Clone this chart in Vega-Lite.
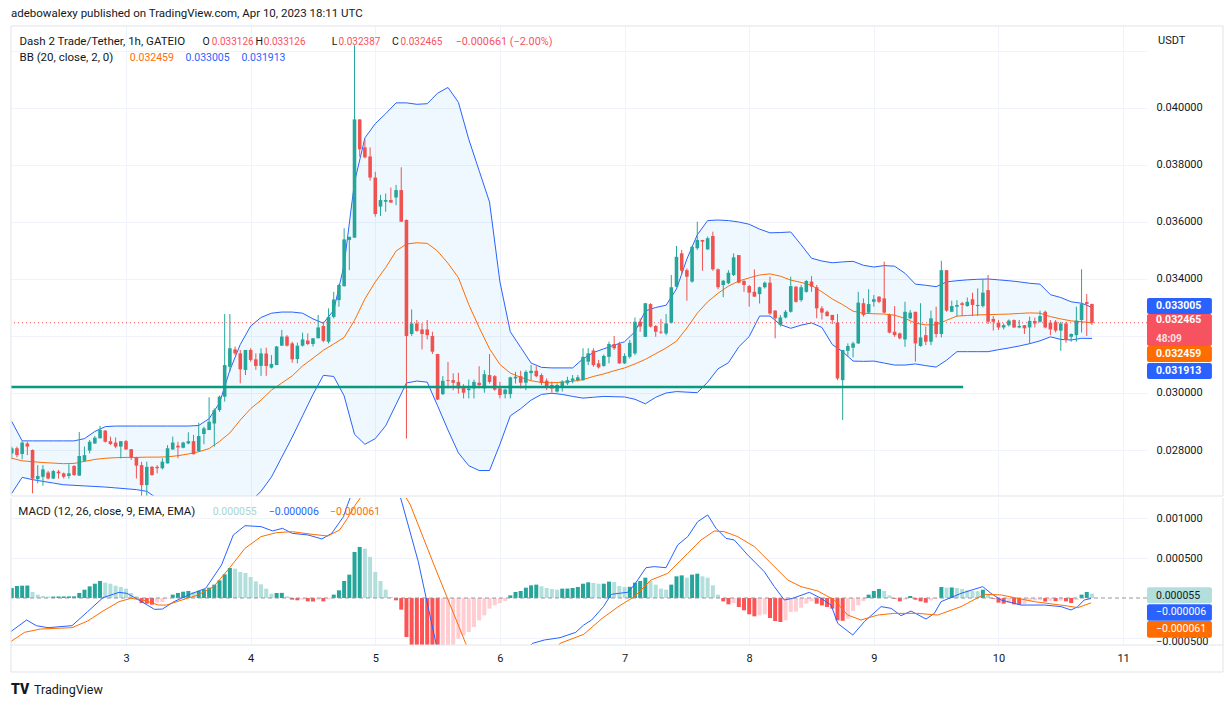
{
"$schema": "https://vega.github.io/schema/vega-lite/v6.json",
"background": "white",
"padding": {"left": 10, "top": 8, "right": 0, "bottom": 0},
"spacing": 0,
"config": {"font": "Roboto", "view": {"stroke": null}, "axis": {"labelFont": "Roboto", "labelFontSize": 11, "labelColor": "#131722", "gridColor": "#f0f3fa", "domain": false, "ticks": false}},
"datasets": {
"candles": [
{"t":2,"o":0.02788,"h":0.02812,"l":0.02767,"c":0.02806},{"t":3,"o":0.02806,"h":0.02812,"l":0.02774,"c":0.02782},{"t":4,"o":0.02786,"h":0.02831,"l":0.02767,"c":0.02826},{"t":5,"o":0.02823,"h":0.02829,"l":0.02782,"c":0.02812},{"t":6,"o":0.028,"h":0.02802,"l":0.02648,"c":0.027},{"t":7,"o":0.02698,"h":0.02747,"l":0.02683,"c":0.02709},{"t":8,"o":0.02706,"h":0.02747,"l":0.02675,"c":0.02732},{"t":9,"o":0.02721,"h":0.02727,"l":0.02697,"c":0.027},{"t":10,"o":0.027,"h":0.0273,"l":0.02698,"c":0.02726},{"t":11,"o":0.02724,"h":0.0273,"l":0.027,"c":0.02718},{"t":12,"o":0.02718,"h":0.02721,"l":0.027,"c":0.02706},{"t":13,"o":0.02709,"h":0.0275,"l":0.027,"c":0.02718},{"t":14,"o":0.02744,"h":0.02747,"l":0.02709,"c":0.02712},{"t":15,"o":0.0271,"h":0.02863,"l":0.0271,"c":0.02779},{"t":16,"o":0.02762,"h":0.02812,"l":0.02759,"c":0.02782},{"t":17,"o":0.02798,"h":0.02835,"l":0.02788,"c":0.02829},{"t":18,"o":0.02823,"h":0.02849,"l":0.02821,"c":0.02843},{"t":19,"o":0.02841,"h":0.02885,"l":0.02841,"c":0.0287},{"t":20,"o":0.02868,"h":0.0287,"l":0.02826,"c":0.02829},{"t":21,"o":0.02831,"h":0.02847,"l":0.02817,"c":0.02821},{"t":22,"o":0.02826,"h":0.02844,"l":0.02806,"c":0.02812},{"t":23,"o":0.02812,"h":0.02831,"l":0.02771,"c":0.02831},{"t":24,"o":0.02831,"h":0.02835,"l":0.028,"c":0.02802},{"t":25,"o":0.02803,"h":0.02803,"l":0.02765,"c":0.02773},{"t":26,"o":0.02774,"h":0.02776,"l":0.027,"c":0.02745},{"t":27,"o":0.02747,"h":0.02759,"l":0.02636,"c":0.02677},{"t":28,"o":0.02677,"h":0.02759,"l":0.02636,"c":0.02741},{"t":29,"o":0.02741,"h":0.02744,"l":0.0271,"c":0.02712},{"t":30,"o":0.02741,"h":0.02747,"l":0.02718,"c":0.02736},{"t":31,"o":0.02736,"h":0.02771,"l":0.02732,"c":0.02759},{"t":32,"o":0.02753,"h":0.02817,"l":0.02753,"c":0.02806},{"t":33,"o":0.02802,"h":0.02847,"l":0.028,"c":0.02826},{"t":34,"o":0.02815,"h":0.02829,"l":0.02771,"c":0.02809},{"t":35,"o":0.02808,"h":0.02829,"l":0.02806,"c":0.02826},{"t":36,"o":0.02823,"h":0.02862,"l":0.0282,"c":0.02831},{"t":37,"o":0.02831,"h":0.02853,"l":0.02785,"c":0.02785},{"t":38,"o":0.02796,"h":0.02896,"l":0.02794,"c":0.02849},{"t":39,"o":0.02856,"h":0.02882,"l":0.0282,"c":0.02876},{"t":40,"o":0.0287,"h":0.02985,"l":0.0287,"c":0.02899},{"t":41,"o":0.02893,"h":0.02946,"l":0.02812,"c":0.0294},{"t":42,"o":0.0294,"h":0.02991,"l":0.02934,"c":0.02987},{"t":43,"o":0.02987,"h":0.03277,"l":0.0297,"c":0.03098},{"t":44,"o":0.03092,"h":0.03277,"l":0.03075,"c":0.03157},{"t":45,"o":0.03153,"h":0.03163,"l":0.03133,"c":0.03139},{"t":46,"o":0.03139,"h":0.03151,"l":0.03034,"c":0.03083},{"t":47,"o":0.03081,"h":0.03151,"l":0.03063,"c":0.03151},{"t":48,"o":0.03151,"h":0.03157,"l":0.0311,"c":0.03116},{"t":49,"o":0.03118,"h":0.03139,"l":0.03081,"c":0.03095},{"t":50,"o":0.03095,"h":0.03157,"l":0.0306,"c":0.03139},{"t":51,"o":0.03139,"h":0.03159,"l":0.0306,"c":0.03095},{"t":52,"o":0.03089,"h":0.03133,"l":0.03086,"c":0.03102},{"t":53,"o":0.03098,"h":0.03165,"l":0.03098,"c":0.03163},{"t":54,"o":0.03166,"h":0.03221,"l":0.03166,"c":0.03198},{"t":55,"o":0.03198,"h":0.03203,"l":0.03163,"c":0.03166},{"t":56,"o":0.03174,"h":0.0318,"l":0.03106,"c":0.03118},{"t":57,"o":0.03119,"h":0.03177,"l":0.03104,"c":0.03166},{"t":58,"o":0.03166,"h":0.03212,"l":0.03163,"c":0.03188},{"t":59,"o":0.03184,"h":0.03209,"l":0.03168,"c":0.03172},{"t":60,"o":0.03172,"h":0.03192,"l":0.03163,"c":0.03192},{"t":61,"o":0.03192,"h":0.03274,"l":0.03192,"c":0.0323},{"t":62,"o":0.03235,"h":0.0325,"l":0.03178,"c":0.03183},{"t":63,"o":0.0318,"h":0.03297,"l":0.03174,"c":0.03267},{"t":64,"o":0.03267,"h":0.03355,"l":0.03262,"c":0.03328},{"t":65,"o":0.03326,"h":0.03382,"l":0.03303,"c":0.03379},{"t":66,"o":0.03375,"h":0.03578,"l":0.03373,"c":0.03539},{"t":67,"o":0.03537,"h":0.03548,"l":0.03431,"c":0.03548},{"t":68,"o":0.03545,"h":0.0422,"l":0.03545,"c":0.0396},{"t":69,"o":0.0396,"h":0.0396,"l":0.03829,"c":0.03855},{"t":70,"o":0.03862,"h":0.0389,"l":0.03823,"c":0.03827},{"t":71,"o":0.0383,"h":0.03862,"l":0.03745,"c":0.03756},{"t":72,"o":0.03756,"h":0.03776,"l":0.03619,"c":0.03628},{"t":73,"o":0.03654,"h":0.03695,"l":0.03621,"c":0.03677},{"t":74,"o":0.03671,"h":0.037,"l":0.03636,"c":0.03677},{"t":75,"o":0.03677,"h":0.03721,"l":0.03668,"c":0.03668},{"t":76,"o":0.03686,"h":0.0373,"l":0.03659,"c":0.03712},{"t":77,"o":0.03712,"h":0.03792,"l":0.03601,"c":0.03601},{"t":78,"o":0.03607,"h":0.03609,"l":0.0284,"c":0.032},{"t":79,"o":0.03207,"h":0.03293,"l":0.032,"c":0.03244},{"t":80,"o":0.03244,"h":0.03256,"l":0.03215,"c":0.03218},{"t":81,"o":0.03223,"h":0.03244,"l":0.03153,"c":0.03207},{"t":82,"o":0.03223,"h":0.03256,"l":0.03188,"c":0.03203},{"t":83,"o":0.032,"h":0.03215,"l":0.03137,"c":0.03145},{"t":84,"o":0.03137,"h":0.03137,"l":0.02975,"c":0.02977},{"t":85,"o":0.02996,"h":0.03059,"l":0.02993,"c":0.03043},{"t":86,"o":0.03045,"h":0.03109,"l":0.03016,"c":0.03042},{"t":87,"o":0.03045,"h":0.03069,"l":0.0301,"c":0.03036},{"t":88,"o":0.03039,"h":0.03071,"l":0.02998,"c":0.03016},{"t":89,"o":0.03022,"h":0.03031,"l":0.02981,"c":0.03001},{"t":90,"o":0.0301,"h":0.03047,"l":0.02981,"c":0.03016},{"t":91,"o":0.03016,"h":0.03047,"l":0.02981,"c":0.03039},{"t":92,"o":0.03036,"h":0.03094,"l":0.03016,"c":0.03028},{"t":93,"o":0.03016,"h":0.0308,"l":0.03001,"c":0.03066},{"t":94,"o":0.03063,"h":0.03137,"l":0.03033,"c":0.03039},{"t":95,"o":0.03059,"h":0.03063,"l":0.03008,"c":0.03012},{"t":96,"o":0.03016,"h":0.03039,"l":0.02981,"c":0.02993},{"t":97,"o":0.02996,"h":0.03016,"l":0.02981,"c":0.03012},{"t":98,"o":0.02996,"h":0.03057,"l":0.02981,"c":0.03055},{"t":99,"o":0.03051,"h":0.03074,"l":0.03033,"c":0.03057},{"t":100,"o":0.03059,"h":0.03078,"l":0.03016,"c":0.03036},{"t":101,"o":0.03036,"h":0.0308,"l":0.0301,"c":0.03074},{"t":102,"o":0.0307,"h":0.03098,"l":0.03045,"c":0.03078},{"t":103,"o":0.03078,"h":0.03094,"l":0.03055,"c":0.03059},{"t":104,"o":0.03063,"h":0.03069,"l":0.03028,"c":0.03036},{"t":105,"o":0.03043,"h":0.03051,"l":0.0301,"c":0.03022},{"t":106,"o":0.03028,"h":0.0304,"l":0.03001,"c":0.03016},{"t":107,"o":0.03005,"h":0.03034,"l":0.03001,"c":0.03028},{"t":108,"o":0.03022,"h":0.03045,"l":0.03005,"c":0.0304},{"t":109,"o":0.03034,"h":0.03057,"l":0.03028,"c":0.03045},{"t":110,"o":0.03043,"h":0.03063,"l":0.03034,"c":0.03051},{"t":111,"o":0.03045,"h":0.03063,"l":0.0304,"c":0.03055},{"t":112,"o":0.03045,"h":0.03157,"l":0.03043,"c":0.03127},{"t":113,"o":0.0311,"h":0.03157,"l":0.03098,"c":0.03139},{"t":114,"o":0.03149,"h":0.03157,"l":0.03092,"c":0.03098},{"t":115,"o":0.03104,"h":0.03116,"l":0.03086,"c":0.0309},{"t":116,"o":0.03095,"h":0.03135,"l":0.03092,"c":0.0313},{"t":117,"o":0.03127,"h":0.0318,"l":0.03104,"c":0.03172},{"t":118,"o":0.03172,"h":0.032,"l":0.03151,"c":0.03157},{"t":119,"o":0.03172,"h":0.0318,"l":0.03102,"c":0.03104},{"t":120,"o":0.03104,"h":0.03139,"l":0.03102,"c":0.0313},{"t":121,"o":0.03127,"h":0.03186,"l":0.03121,"c":0.03176},{"t":122,"o":0.03139,"h":0.03265,"l":0.03133,"c":0.0325},{"t":123,"o":0.0325,"h":0.03262,"l":0.03215,"c":0.03233},{"t":124,"o":0.03197,"h":0.03315,"l":0.03197,"c":0.03315},{"t":125,"o":0.03312,"h":0.03315,"l":0.0323,"c":0.03233},{"t":126,"o":0.03235,"h":0.03238,"l":0.03197,"c":0.03215},{"t":127,"o":0.03215,"h":0.03259,"l":0.03207,"c":0.03212},{"t":128,"o":0.03209,"h":0.03277,"l":0.03203,"c":0.03244},{"t":129,"o":0.03247,"h":0.03414,"l":0.03244,"c":0.03371},{"t":130,"o":0.03373,"h":0.03516,"l":0.03371,"c":0.03478},{"t":131,"o":0.0349,"h":0.03502,"l":0.03414,"c":0.03429},{"t":132,"o":0.03431,"h":0.03437,"l":0.03324,"c":0.03408},{"t":133,"o":0.03391,"h":0.03516,"l":0.03387,"c":0.03513},{"t":134,"o":0.03508,"h":0.03601,"l":0.03502,"c":0.03537},{"t":135,"o":0.03537,"h":0.03537,"l":0.03429,"c":0.03531},{"t":136,"o":0.03504,"h":0.03549,"l":0.03502,"c":0.03543},{"t":137,"o":0.03551,"h":0.03566,"l":0.03429,"c":0.03434},{"t":138,"o":0.03434,"h":0.03437,"l":0.03364,"c":0.03371},{"t":139,"o":0.03379,"h":0.03396,"l":0.03336,"c":0.03394},{"t":140,"o":0.03385,"h":0.03431,"l":0.03382,"c":0.03422},{"t":141,"o":0.03414,"h":0.0349,"l":0.0341,"c":0.03476},{"t":142,"o":0.03484,"h":0.03484,"l":0.03385,"c":0.03387},{"t":143,"o":0.03393,"h":0.03396,"l":0.03355,"c":0.03379},{"t":144,"o":0.03375,"h":0.03379,"l":0.03303,"c":0.03352},{"t":145,"o":0.03355,"h":0.03434,"l":0.03338,"c":0.03338},{"t":146,"o":0.03347,"h":0.03373,"l":0.03314,"c":0.03371},{"t":147,"o":0.03371,"h":0.03391,"l":0.03367,"c":0.03387},{"t":148,"o":0.03387,"h":0.03408,"l":0.03274,"c":0.03279},{"t":149,"o":0.03289,"h":0.03291,"l":0.03192,"c":0.03262},{"t":150,"o":0.03239,"h":0.03274,"l":0.03233,"c":0.03265},{"t":151,"o":0.03265,"h":0.03291,"l":0.03262,"c":0.03285},{"t":152,"o":0.03285,"h":0.03408,"l":0.03282,"c":0.03375},{"t":153,"o":0.03373,"h":0.03375,"l":0.03317,"c":0.0332},{"t":154,"o":0.03326,"h":0.03379,"l":0.0332,"c":0.03371},{"t":155,"o":0.03355,"h":0.03396,"l":0.03352,"c":0.03393},{"t":156,"o":0.03391,"h":0.0341,"l":0.03355,"c":0.03373},{"t":157,"o":0.03371,"h":0.03379,"l":0.03262,"c":0.03297},{"t":158,"o":0.03297,"h":0.03305,"l":0.03258,"c":0.03282},{"t":159,"o":0.03285,"h":0.03289,"l":0.03268,"c":0.0327},{"t":160,"o":0.03274,"h":0.03274,"l":0.03242,"c":0.03256},{"t":161,"o":0.03247,"h":0.03277,"l":0.03045,"c":0.03051},{"t":162,"o":0.03045,"h":0.03151,"l":0.02905,"c":0.03151},{"t":163,"o":0.03148,"h":0.03174,"l":0.03127,"c":0.03165},{"t":164,"o":0.03159,"h":0.0318,"l":0.03125,"c":0.03174},{"t":165,"o":0.03174,"h":0.03355,"l":0.03172,"c":0.03317},{"t":166,"o":0.03315,"h":0.03332,"l":0.03268,"c":0.03274},{"t":167,"o":0.03282,"h":0.03364,"l":0.03279,"c":0.03312},{"t":168,"o":0.0332,"h":0.03344,"l":0.03303,"c":0.03329},{"t":169,"o":0.03338,"h":0.0334,"l":0.03315,"c":0.0332},{"t":170,"o":0.03332,"h":0.03461,"l":0.03279,"c":0.03282},{"t":171,"o":0.03274,"h":0.03279,"l":0.03209,"c":0.03212},{"t":172,"o":0.03215,"h":0.03305,"l":0.03197,"c":0.03203},{"t":173,"o":0.03209,"h":0.03212,"l":0.03188,"c":0.03192},{"t":174,"o":0.03188,"h":0.0332,"l":0.03162,"c":0.03285},{"t":175,"o":0.03262,"h":0.03291,"l":0.03258,"c":0.03282},{"t":176,"o":0.03285,"h":0.03285,"l":0.0311,"c":0.03174},{"t":177,"o":0.03165,"h":0.03315,"l":0.03162,"c":0.03195},{"t":178,"o":0.03203,"h":0.03233,"l":0.03168,"c":0.0318},{"t":179,"o":0.0318,"h":0.03289,"l":0.03168,"c":0.03262},{"t":180,"o":0.0325,"h":0.03303,"l":0.03195,"c":0.03207},{"t":181,"o":0.03207,"h":0.03464,"l":0.03195,"c":0.03431},{"t":182,"o":0.03431,"h":0.03431,"l":0.03285,"c":0.03289},{"t":183,"o":0.03285,"h":0.03324,"l":0.03285,"c":0.03305},{"t":184,"o":0.03303,"h":0.03326,"l":0.03268,"c":0.03309},{"t":185,"o":0.03315,"h":0.0332,"l":0.0327,"c":0.03309},{"t":186,"o":0.03305,"h":0.03335,"l":0.03303,"c":0.0332},{"t":187,"o":0.03329,"h":0.03352,"l":0.0327,"c":0.03309},{"t":188,"o":0.03305,"h":0.03367,"l":0.0327,"c":0.03309},{"t":189,"o":0.03305,"h":0.03399,"l":0.033,"c":0.03352},{"t":190,"o":0.03361,"h":0.03414,"l":0.03242,"c":0.0325},{"t":191,"o":0.0326,"h":0.0327,"l":0.03219,"c":0.0325},{"t":192,"o":0.03247,"h":0.03256,"l":0.03221,"c":0.0323},{"t":193,"o":0.0323,"h":0.03244,"l":0.03223,"c":0.03238},{"t":194,"o":0.03238,"h":0.03258,"l":0.03233,"c":0.03254},{"t":195,"o":0.03256,"h":0.03258,"l":0.03228,"c":0.0323},{"t":196,"o":0.0323,"h":0.03256,"l":0.03227,"c":0.03235},{"t":197,"o":0.03238,"h":0.03238,"l":0.03207,"c":0.03227},{"t":198,"o":0.0323,"h":0.03268,"l":0.03172,"c":0.03253},{"t":199,"o":0.03253,"h":0.03265,"l":0.0323,"c":0.03244},{"t":200,"o":0.0325,"h":0.03289,"l":0.03247,"c":0.0327},{"t":201,"o":0.03285,"h":0.03289,"l":0.03227,"c":0.0323},{"t":202,"o":0.03247,"h":0.03256,"l":0.03203,"c":0.03223},{"t":203,"o":0.0325,"h":0.03256,"l":0.03212,"c":0.03219},{"t":204,"o":0.03219,"h":0.0325,"l":0.03148,"c":0.03244},{"t":205,"o":0.03244,"h":0.0325,"l":0.03176,"c":0.03186},{"t":206,"o":0.03197,"h":0.03209,"l":0.0318,"c":0.03207},{"t":207,"o":0.03203,"h":0.03303,"l":0.0318,"c":0.03254},{"t":208,"o":0.03256,"h":0.03434,"l":0.03212,"c":0.03312},{"t":209,"o":0.03319,"h":0.03347,"l":0.032,"c":0.033126},{"t":210,"o":0.033126,"h":0.033126,"l":0.032387,"c":0.032465}
],
"bb": [
{"t":2,"u":0.029,"m":0.02771,"l":0.02648},{"t":4,"u":0.02832,"m":0.02762,"l":0.02704},{"t":6,"u":0.02832,"m":0.02759,"l":0.02696},{"t":8,"u":0.02832,"m":0.02756,"l":0.0269},{"t":10,"u":0.02832,"m":0.02754,"l":0.02684},{"t":12,"u":0.02832,"m":0.02752,"l":0.02678},{"t":14,"u":0.02832,"m":0.02753,"l":0.02676},{"t":16,"u":0.0284,"m":0.0276,"l":0.02674},{"t":18,"u":0.02865,"m":0.02767,"l":0.02672},{"t":20,"u":0.02882,"m":0.02771,"l":0.0267},{"t":22,"u":0.02884,"m":0.02773,"l":0.02667},{"t":24,"u":0.02884,"m":0.02774,"l":0.02664},{"t":26,"u":0.02884,"m":0.02774,"l":0.02661},{"t":28,"u":0.02884,"m":0.02775,"l":0.02655},{"t":30,"u":0.02884,"m":0.02775,"l":0.0263},{"t":32,"u":0.02884,"m":0.02776,"l":0.0261},{"t":34,"u":0.02884,"m":0.0278,"l":0.0259},{"t":36,"u":0.02884,"m":0.02786,"l":0.0258},{"t":38,"u":0.02886,"m":0.02794,"l":0.02575},{"t":40,"u":0.0291,"m":0.02805,"l":0.02572},{"t":42,"u":0.02965,"m":0.0283,"l":0.02575},{"t":44,"u":0.0308,"m":0.0286,"l":0.02585},{"t":46,"u":0.0317,"m":0.02905,"l":0.02598},{"t":48,"u":0.03235,"m":0.02945,"l":0.0262},{"t":50,"u":0.03265,"m":0.02975,"l":0.02655},{"t":52,"u":0.0328,"m":0.0301,"l":0.02705},{"t":54,"u":0.03284,"m":0.03035,"l":0.02775},{"t":56,"u":0.03284,"m":0.0306,"l":0.02845},{"t":58,"u":0.0328,"m":0.03095,"l":0.0292},{"t":60,"u":0.0326,"m":0.03122,"l":0.02995},{"t":62,"u":0.03245,"m":0.0315,"l":0.03062},{"t":64,"u":0.0329,"m":0.03172,"l":0.03058},{"t":66,"u":0.0345,"m":0.03195,"l":0.0299},{"t":68,"u":0.0374,"m":0.03255,"l":0.02855},{"t":70,"u":0.03895,"m":0.0333,"l":0.0282},{"t":72,"u":0.03945,"m":0.0339,"l":0.0284},{"t":74,"u":0.0398,"m":0.0344,"l":0.02885},{"t":76,"u":0.04018,"m":0.03498,"l":0.0296},{"t":78,"u":0.04018,"m":0.03523,"l":0.03035},{"t":80,"u":0.04013,"m":0.03527,"l":0.03042},{"t":82,"u":0.04015,"m":0.03525,"l":0.03038},{"t":84,"u":0.04052,"m":0.03498,"l":0.02955},{"t":86,"u":0.04072,"m":0.03455,"l":0.0287},{"t":88,"u":0.0402,"m":0.03405,"l":0.0279},{"t":90,"u":0.0389,"m":0.0331,"l":0.02745},{"t":92,"u":0.0378,"m":0.0323,"l":0.02728},{"t":94,"u":0.0367,"m":0.03155,"l":0.02728},{"t":96,"u":0.0339,"m":0.031,"l":0.0282},{"t":98,"u":0.03215,"m":0.0307,"l":0.0292},{"t":100,"u":0.0316,"m":0.03055,"l":0.02945},{"t":102,"u":0.03105,"m":0.03043,"l":0.02975},{"t":104,"u":0.0309,"m":0.03037,"l":0.02995},{"t":106,"u":0.03088,"m":0.03036,"l":0.02999},{"t":108,"u":0.03088,"m":0.03038,"l":0.02995},{"t":110,"u":0.03088,"m":0.03041,"l":0.02988},{"t":112,"u":0.0312,"m":0.03047,"l":0.02982},{"t":114,"u":0.03142,"m":0.03058,"l":0.02985},{"t":116,"u":0.03155,"m":0.03067,"l":0.02988},{"t":118,"u":0.03168,"m":0.03078,"l":0.02987},{"t":120,"u":0.0318,"m":0.03088,"l":0.02986},{"t":122,"u":0.03215,"m":0.03102,"l":0.02978},{"t":124,"u":0.03288,"m":0.03118,"l":0.02962},{"t":126,"u":0.033,"m":0.03138,"l":0.02985},{"t":128,"u":0.03308,"m":0.03158,"l":0.03},{"t":130,"u":0.03365,"m":0.03182,"l":0.03005},{"t":132,"u":0.0347,"m":0.03228,"l":0.03003},{"t":134,"u":0.03555,"m":0.0328,"l":0.03001},{"t":136,"u":0.03605,"m":0.0332,"l":0.03038},{"t":138,"u":0.03607,"m":0.0335,"l":0.03085},{"t":140,"u":0.03605,"m":0.03375,"l":0.03106},{"t":142,"u":0.036,"m":0.03393,"l":0.03162},{"t":144,"u":0.03592,"m":0.03404,"l":0.03198},{"t":146,"u":0.03575,"m":0.03414,"l":0.0327},{"t":148,"u":0.03562,"m":0.03418,"l":0.0327},{"t":150,"u":0.03563,"m":0.0341,"l":0.0324},{"t":152,"u":0.03565,"m":0.03396,"l":0.03227},{"t":154,"u":0.0352,"m":0.03388,"l":0.03238},{"t":156,"u":0.03473,"m":0.03378,"l":0.03246},{"t":158,"u":0.03463,"m":0.03355,"l":0.0323},{"t":160,"u":0.03457,"m":0.0333,"l":0.0317},{"t":162,"u":0.0346,"m":0.0331,"l":0.03145},{"t":164,"u":0.03462,"m":0.03287,"l":0.03112},{"t":166,"u":0.03448,"m":0.0328,"l":0.03111},{"t":168,"u":0.03442,"m":0.03278,"l":0.03112},{"t":170,"u":0.03447,"m":0.03277,"l":0.03105},{"t":172,"u":0.03445,"m":0.03273,"l":0.03098},{"t":174,"u":0.0342,"m":0.03262,"l":0.03098},{"t":176,"u":0.03382,"m":0.03245,"l":0.03102},{"t":178,"u":0.03378,"m":0.03239,"l":0.03096},{"t":180,"u":0.03373,"m":0.03239,"l":0.03091},{"t":182,"u":0.0339,"m":0.03255,"l":0.03115},{"t":184,"u":0.03394,"m":0.0327,"l":0.03145},{"t":186,"u":0.03397,"m":0.03272,"l":0.03145},{"t":188,"u":0.03399,"m":0.03274,"l":0.03145},{"t":190,"u":0.034,"m":0.03275,"l":0.03145},{"t":192,"u":0.03397,"m":0.03276,"l":0.03152},{"t":194,"u":0.03394,"m":0.03277,"l":0.03158},{"t":196,"u":0.0339,"m":0.03279,"l":0.03165},{"t":198,"u":0.03385,"m":0.03281,"l":0.03173},{"t":200,"u":0.03382,"m":0.0328,"l":0.03183},{"t":202,"u":0.03345,"m":0.03268,"l":0.03197},{"t":204,"u":0.03335,"m":0.0326,"l":0.03188},{"t":206,"u":0.0332,"m":0.03253,"l":0.03186},{"t":208,"u":0.03315,"m":0.0325,"l":0.03192},{"t":210,"u":0.033005,"m":0.032459,"l":0.031913}
],
"hist": [
{"t":2,"v":0.000125},{"t":3,"v":0.00015},{"t":4,"v":0.000154},{"t":5,"v":0.000156},{"t":6,"v":0.000075},{"t":7,"v":0.000042},{"t":8,"v":0.000025},{"t":9,"v":0.000017},{"t":10,"v":0.000018},{"t":11,"v":0.000019},{"t":12,"v":0.000019},{"t":13,"v":0.00002},{"t":14,"v":0.000021},{"t":15,"v":0.000063},{"t":16,"v":0.000104},{"t":17,"v":0.000146},{"t":18,"v":0.000179},{"t":19,"v":0.000213},{"t":20,"v":0.000192},{"t":21,"v":0.000179},{"t":22,"v":0.000154},{"t":23,"v":0.000138},{"t":24,"v":0.000117},{"t":25,"v":0.000063},{"t":26,"v":0.000021},{"t":27,"v":-0.000063},{"t":28,"v":-0.000071},{"t":29,"v":-0.000083},{"t":30,"v":-0.000058},{"t":31,"v":-0.00005},{"t":32,"v":-0.000005},{"t":33,"v":0.000042},{"t":34,"v":0.000063},{"t":35,"v":0.000079},{"t":36,"v":0.000088},{"t":37,"v":0.000075},{"t":38,"v":0.00009},{"t":39,"v":0.000108},{"t":40,"v":0.000129},{"t":41,"v":0.000167},{"t":42,"v":0.000221},{"t":43,"v":0.000296},{"t":44,"v":0.000375},{"t":45,"v":0.000367},{"t":46,"v":0.000325},{"t":47,"v":0.000313},{"t":48,"v":0.000263},{"t":49,"v":0.000208},{"t":50,"v":0.000171},{"t":51,"v":0.000117},{"t":52,"v":0.000054},{"t":53,"v":0.000063},{"t":54,"v":0.000064},{"t":55,"v":0.000021},{"t":56,"v":-0.000021},{"t":57,"v":-0.000029},{"t":58,"v":-0.000021},{"t":59,"v":-0.000042},{"t":60,"v":-0.000044},{"t":61,"v":-0.000021},{"t":62,"v":-0.000042},{"t":63,"v":-0.000017},{"t":64,"v":0.000042},{"t":65,"v":0.000096},{"t":66,"v":0.000213},{"t":67,"v":0.000292},{"t":68,"v":0.000575},{"t":69,"v":0.000638},{"t":70,"v":0.000617},{"t":71,"v":0.000513},{"t":72,"v":0.000325},{"t":73,"v":0.000213},{"t":74,"v":0.000104},{"t":75,"v":0.000013},{"t":76,"v":-0.000029},{"t":77,"v":-0.000146},{"t":78,"v":-0.000488},{"t":79,"v":-0.00062},{"t":80,"v":-0.0007},{"t":81,"v":-0.00076},{"t":82,"v":-0.00079},{"t":83,"v":-0.0008},{"t":84,"v":-0.000805},{"t":85,"v":-0.00074},{"t":86,"v":-0.00065},{"t":87,"v":-0.00058},{"t":88,"v":-0.00051},{"t":89,"v":-0.000467},{"t":90,"v":-0.000425},{"t":91,"v":-0.000363},{"t":92,"v":-0.00028},{"t":93,"v":-0.000217},{"t":94,"v":-0.000133},{"t":95,"v":-0.000092},{"t":96,"v":-0.000063},{"t":97,"v":-0.000038},{"t":98,"v":0.000033},{"t":99,"v":0.000075},{"t":100,"v":0.000088},{"t":101,"v":0.000129},{"t":102,"v":0.000158},{"t":103,"v":0.000167},{"t":104,"v":0.000146},{"t":105,"v":0.000125},{"t":106,"v":0.000113},{"t":107,"v":0.000104},{"t":108,"v":0.000117},{"t":109,"v":0.000118},{"t":110,"v":0.000125},{"t":111,"v":0.000138},{"t":112,"v":0.000179},{"t":113,"v":0.000196},{"t":114,"v":0.000188},{"t":115,"v":0.000179},{"t":116,"v":0.000179},{"t":117,"v":0.000205},{"t":118,"v":0.0002},{"t":119,"v":0.00015},{"t":120,"v":0.000138},{"t":121,"v":0.00014},{"t":122,"v":0.000192},{"t":123,"v":0.000213},{"t":124,"v":0.000254},{"t":125,"v":0.000213},{"t":126,"v":0.000167},{"t":127,"v":0.000117},{"t":128,"v":0.000104},{"t":129,"v":0.000167},{"t":130,"v":0.000271},{"t":131,"v":0.000283},{"t":132,"v":0.000254},{"t":133,"v":0.000292},{"t":134,"v":0.000304},{"t":135,"v":0.000271},{"t":136,"v":0.000254},{"t":137,"v":0.000158},{"t":138,"v":0.000042},{"t":139,"v":-0.000042},{"t":140,"v":-0.000079},{"t":141,"v":-0.000063},{"t":142,"v":-0.000113},{"t":143,"v":-0.000154},{"t":144,"v":-0.000204},{"t":145,"v":-0.000229},{"t":146,"v":-0.000217},{"t":147,"v":-0.000204},{"t":148,"v":-0.00025},{"t":149,"v":-0.000288},{"t":150,"v":-0.0003},{"t":151,"v":-0.000279},{"t":152,"v":-0.000175},{"t":153,"v":-0.00017},{"t":154,"v":-0.000121},{"t":155,"v":-0.000071},{"t":156,"v":-0.000042},{"t":157,"v":-0.000071},{"t":158,"v":-0.000092},{"t":159,"v":-0.000113},{"t":160,"v":-0.000133},{"t":161,"v":-0.000279},{"t":162,"v":-0.000285},{"t":163,"v":-0.000258},{"t":164,"v":-0.000163},{"t":165,"v":-0.000092},{"t":166,"v":-0.000038},{"t":167,"v":0.000042},{"t":168,"v":0.000088},{"t":169,"v":0.000113},{"t":170,"v":0.000088},{"t":171,"v":0.000033},{"t":172,"v":-0.00001},{"t":173,"v":-0.000042},{"t":174,"v":-0.00002},{"t":175,"v":0.000025},{"t":176,"v":-0.000021},{"t":177,"v":-0.000042},{"t":178,"v":-0.000058},{"t":179,"v":-0.00003},{"t":180,"v":-0.000008},{"t":181,"v":0.000138},{"t":182,"v":0.000129},{"t":183,"v":0.000132},{"t":184,"v":0.000125},{"t":185,"v":0.000113},{"t":186,"v":0.000096},{"t":187,"v":0.000088},{"t":188,"v":0.000085},{"t":189,"v":0.000104},{"t":190,"v":0.000042},{"t":191,"v":-0.00001},{"t":192,"v":-0.000058},{"t":193,"v":-0.000071},{"t":194,"v":-0.000063},{"t":195,"v":-0.000079},{"t":196,"v":-0.000083},{"t":197,"v":-0.000075},{"t":198,"v":-0.000038},{"t":199,"v":-0.00003},{"t":200,"v":-0.000028},{"t":201,"v":-0.000045},{"t":202,"v":-0.000035},{"t":203,"v":-0.00004},{"t":204,"v":-0.000033},{"t":205,"v":-0.000042},{"t":206,"v":-0.000063},{"t":207,"v":-0.000025},{"t":208,"v":0.000042},{"t":209,"v":0.000075},{"t":210,"v":0.000055}
],
"macd": [
{"t":1.8,"m":-0.000421},{"t":4.86,"m":-0.000275},{"t":6.74,"m":-0.000346},{"t":8.98,"m":-0.000371},{"t":13.6,"m":-0.000346},{"t":16.6,"m":-0.000171},{"t":19.57,"m":0.000004},{"t":22.65,"m":0.000071},{"t":24.19,"m":0.000058},{"t":26.46,"m":-0.000025},{"t":29.49,"m":-0.000142},{"t":31.01,"m":-0.000138},{"t":33.24,"m":-0.000046},{"t":36.32,"m":0.000046},{"t":39.35,"m":0.000121},{"t":42.39,"m":0.000413},{"t":44.66,"m":0.000788},{"t":46.91,"m":0.000904},{"t":50,"m":0.000892},{"t":52.25,"m":0.000838},{"t":54.13,"m":0.000871},{"t":56.02,"m":0.000808},{"t":59.04,"m":0.000788},{"t":61.72,"m":0.000738},{"t":63.61,"m":0.000808},{"t":65.88,"m":0.001017},{"t":66.65,"m":0.001163},{"t":68,"m":0.0014},{"t":70,"m":0.0016},{"t":72,"m":0.0017},{"t":74,"m":0.00165},{"t":76,"m":0.00145},{"t":77.26,"m":0.001163},{"t":80.28,"m":0.000454},{"t":83.69,"m":-0.000567},{"t":86,"m":-0.00095},{"t":89,"m":-0.0012},{"t":92,"m":-0.00125},{"t":95,"m":-0.0011},{"t":98,"m":-0.0009},{"t":100,"m":-0.00072},{"t":102.27,"m":-0.000567},{"t":104.55,"m":-0.000525},{"t":107.57,"m":-0.000496},{"t":110.6,"m":-0.000429},{"t":112.13,"m":-0.000338},{"t":113.66,"m":-0.000275},{"t":115.93,"m":-0.000108},{"t":117.43,"m":0.000046},{"t":118.8,"m":0.000058},{"t":120.6,"m":0.000071},{"t":121.88,"m":0.000163},{"t":124.13,"m":0.000379},{"t":125.73,"m":0.000392},{"t":127.98,"m":0.000379},{"t":130.23,"m":0.000663},{"t":132.16,"m":0.000767},{"t":134.08,"m":0.000954},{"t":136.01,"m":0.001038},{"t":137.61,"m":0.000871},{"t":139.53,"m":0.000746},{"t":141.13,"m":0.000725},{"t":143.71,"m":0.000538},{"t":146.91,"m":0.000329},{"t":148.83,"m":0.000142},{"t":150.76,"m":-0.000025},{"t":152.38,"m":-0.000004},{"t":155.58,"m":0.000071},{"t":157.83,"m":-0.000004},{"t":159.76,"m":-0.000088},{"t":161.05,"m":-0.000317},{"t":163.94,"m":-0.000463},{"t":166.17,"m":-0.000296},{"t":169.39,"m":-0.000108},{"t":171.31,"m":-0.000129},{"t":173.24,"m":-0.000221},{"t":175.16,"m":-0.000163},{"t":178.05,"m":-0.000263},{"t":179.65,"m":-0.000192},{"t":180.94,"m":-0.000046},{"t":184.79,"m":0.000058},{"t":188.97,"m":0.000142},{"t":190.57,"m":0.000058},{"t":192.5,"m":-0.000025},{"t":196.34,"m":-0.000088},{"t":200.83,"m":-0.000088},{"t":204.05,"m":-0.000108},{"t":205.97,"m":-0.00015},{"t":207.26,"m":-0.000108},{"t":208.5,"m":-0.000025},{"t":209.83,"m":-0.000006}
],
"sig": [
{"t":1.8,"s":-0.000545},{"t":4.47,"s":-0.000429},{"t":7.51,"s":-0.000388},{"t":13.6,"s":-0.000371},{"t":16.6,"s":-0.000288},{"t":19.57,"s":-0.000163},{"t":22.65,"s":-0.000046},{"t":24.96,"s":-0.000004},{"t":27.21,"s":-0.000025},{"t":30.26,"s":-0.000088},{"t":31.78,"s":-0.000088},{"t":34.78,"s":-0.000025},{"t":37.86,"s":0.000038},{"t":40.87,"s":0.000142},{"t":43.89,"s":0.000371},{"t":46.91,"s":0.000621},{"t":50,"s":0.000767},{"t":53,"s":0.000817},{"t":56.02,"s":0.000829},{"t":59.82,"s":0.000796},{"t":62.86,"s":0.000775},{"t":65.13,"s":0.00085},{"t":66.65,"s":0.000996},{"t":68.15,"s":0.001163},{"t":70,"s":0.00133},{"t":72,"s":0.00142},{"t":74,"s":0.00145},{"t":76,"s":0.0014},{"t":77.5,"s":0.0013},{"t":78.76,"s":0.001163},{"t":83.31,"s":0.000413},{"t":89.4,"s":-0.000567},{"t":92,"s":-0.00085},{"t":95,"s":-0.001},{"t":98,"s":-0.00105},{"t":101,"s":-0.001},{"t":104,"s":-0.00085},{"t":107.57,"s":-0.000567},{"t":112.13,"s":-0.000454},{"t":115.7,"s":-0.000254},{"t":118.75,"s":-0.00011},{"t":121.88,"s":0.000017},{"t":125.1,"s":0.000225},{"t":128.31,"s":0.000308},{"t":132.16,"s":0.000558},{"t":134.72,"s":0.000725},{"t":137.28,"s":0.000838},{"t":139.21,"s":0.000829},{"t":141.79,"s":0.000767},{"t":144.99,"s":0.000642},{"t":147.57,"s":0.000475},{"t":151.42,"s":0.000225},{"t":153.98,"s":0.000142},{"t":157.19,"s":0.000088},{"t":160.39,"s":-0.000025},{"t":162.97,"s":-0.000213},{"t":165.53,"s":-0.000275},{"t":168.75,"s":-0.000213},{"t":171.95,"s":-0.000192},{"t":176.45,"s":-0.000192},{"t":180.3,"s":-0.000213},{"t":184.79,"s":-0.000108},{"t":189.28,"s":0.000046},{"t":192.5,"s":0.000038},{"t":198.9,"s":-0.000046},{"t":205.34,"s":-0.0001},{"t":207.26,"s":-0.000121},{"t":209.83,"s":-0.000061}
]
},
"vconcat": [
{
"width": 1136,
"height": 470,
"layer": [
{"data": {"name": "bb"}, "mark": {"type": "area", "color": "#2196f3", "opacity": 0.07, "clip": true},
 "encoding": {
  "x": {"field": "t", "type": "quantitative", "title": null, "scale": {"domain": [1.853, 220.6], "nice": false, "zero": false, "padding": 0}, "axis": {"values": [24,48,72,96,120,144,168,192,216], "labels": false, "grid": true, "gridColor": "#f0f3fa", "domain": false, "ticks": false, "title": null}},
  "y": {"field": "u", "type": "quantitative", "title": null, "scale": {"domain": [0.026386, 0.042877], "nice": false, "zero": false, "padding": 0}, "axis": {"orient": "right", "values": [0.028,0.03,0.032,0.034,0.036,0.038,0.04,0.042], "format": ".6f", "labelExpr": "(datum.value > 0.041 || (datum.value > 0.0319 && datum.value < 0.0321)) ? '' : datum.label", "grid": true, "gridColor": "#f0f3fa", "domain": false, "ticks": false, "labelPadding": 9, "title": null}},
  "y2": {"field": "l"}
 }},
{"data": {"name": "bb"}, "mark": {"type": "line", "color": "#2962ff", "strokeWidth": 1, "clip": true},
 "encoding": {"x": {"field": "t", "type": "quantitative", "title": null}, "y": {"field": "u", "type": "quantitative", "title": null}}},
{"data": {"name": "bb"}, "mark": {"type": "line", "color": "#2962ff", "strokeWidth": 1, "clip": true},
 "encoding": {"x": {"field": "t", "type": "quantitative", "title": null}, "y": {"field": "l", "type": "quantitative", "title": null}}},
{"data": {"name": "bb"}, "mark": {"type": "line", "color": "#ff6d00", "strokeWidth": 1, "clip": true},
 "encoding": {"x": {"field": "t", "type": "quantitative", "title": null}, "y": {"field": "m", "type": "quantitative", "title": null}}},
{"data": {"values": [{}]}, "mark": {"type": "rule", "color": "#ef5350", "strokeWidth": 1, "strokeDash": [1, 3]},
 "encoding": {"y": {"datum": 0.032465, "type": "quantitative"}}},
{"data": {"name": "candles"}, "mark": {"type": "rule", "strokeWidth": 1, "clip": true},
 "encoding": {"x": {"field": "t", "type": "quantitative", "title": null}, "y": {"field": "l", "type": "quantitative", "title": null}, "y2": {"field": "h"},
  "color": {"condition": {"test": "datum.c >= datum.o", "value": "#26a69a"}, "value": "#ef5350"}}},
{"data": {"name": "candles"}, "mark": {"type": "bar", "size": 3.6, "clip": true},
 "encoding": {"x": {"field": "t", "type": "quantitative", "title": null}, "y": {"field": "o", "type": "quantitative", "title": null}, "y2": {"field": "c"},
  "color": {"condition": {"test": "datum.c >= datum.o", "value": "#26a69a"}, "value": "#ef5350"}}},
{"data": {"values": [{}]}, "mark": {"type": "rule", "color": "#089981", "strokeWidth": 2.5, "clip": true},
 "encoding": {"x": {"datum": 1.853, "type": "quantitative"}, "x2": {"datum": 185.2}, "y": {"datum": 0.030211, "type": "quantitative"}}},
{"data": {"values": [{}]}, "mark": {"type": "rule", "color": "#e0e3eb", "strokeWidth": 1},
 "encoding": {"x": {"datum": 1.853, "type": "quantitative"}, "x2": {"datum": 235.24}, "y": {"datum": 0.042877, "type": "quantitative"}}},
{"data": {"values": [{}]}, "mark": {"type": "rule", "color": "#e0e3eb", "strokeWidth": 1},
 "encoding": {"x": {"datum": 1.853, "type": "quantitative"}, "x2": {"datum": 235.24}, "y": {"datum": 0.026386, "type": "quantitative"}}},
{"data": {"values": [{}]}, "mark": {"type": "rule", "color": "#e0e3eb", "strokeWidth": 1},
 "encoding": {"x": {"datum": 1.853, "type": "quantitative"}, "y": {"datum": 0.042877, "type": "quantitative"}, "y2": {"datum": 0.026386}}},
{"data": {"values": [{}]}, "mark": {"type": "rule", "color": "#e0e3eb", "strokeWidth": 1},
 "encoding": {"x": {"datum": 235.24, "type": "quantitative"}, "y": {"datum": 0.042877, "type": "quantitative"}, "y2": {"datum": 0.026386}}},
{"data": {"values": [{}]}, "mark": {"type": "text", "text": "adebowalexy published on TradingView.com, Apr 10, 2023 18:11 UTC", "align": "left", "baseline": "middle", "fontSize": 11.5, "color": "#131722"},
 "encoding": {"x": {"datum": 1.853, "type": "quantitative"}, "y": {"datum": 0.043298, "type": "quantitative"}}},
{"data": {"values": [{}]}, "mark": {"type": "text", "text": "Dash 2 Trade/Tether, 1h, GATEIO", "align": "left", "baseline": "middle", "fontSize": 11.5, "color": "#131722"},
 "encoding": {"x": {"datum": 3.49, "type": "quantitative"}, "y": {"datum": 0.042316, "type": "quantitative"}}},
{"data": {"values": [{}]}, "mark": {"type": "text", "text": "O", "align": "left", "baseline": "middle", "fontSize": 10.5, "color": "#131722"},
 "encoding": {"x": {"datum": 38.73, "type": "quantitative"}, "y": {"datum": 0.042316, "type": "quantitative"}}},
{"data": {"values": [{}]}, "mark": {"type": "text", "text": "0.033126", "align": "left", "baseline": "middle", "fontSize": 10, "color": "#f7525f"},
 "encoding": {"x": {"datum": 40.5, "type": "quantitative"}, "y": {"datum": 0.042316, "type": "quantitative"}}},
{"data": {"values": [{}]}, "mark": {"type": "text", "text": "H", "align": "left", "baseline": "middle", "fontSize": 10.5, "color": "#131722"},
 "encoding": {"x": {"datum": 48.94, "type": "quantitative"}, "y": {"datum": 0.042316, "type": "quantitative"}}},
{"data": {"values": [{}]}, "mark": {"type": "text", "text": "0.033126", "align": "left", "baseline": "middle", "fontSize": 10, "color": "#f7525f"},
 "encoding": {"x": {"datum": 50.5, "type": "quantitative"}, "y": {"datum": 0.042316, "type": "quantitative"}}},
{"data": {"values": [{}]}, "mark": {"type": "text", "text": "L", "align": "left", "baseline": "middle", "fontSize": 10.5, "color": "#131722"},
 "encoding": {"x": {"datum": 63.63, "type": "quantitative"}, "y": {"datum": 0.042316, "type": "quantitative"}}},
{"data": {"values": [{}]}, "mark": {"type": "text", "text": "0.032387", "align": "left", "baseline": "middle", "fontSize": 10, "color": "#f7525f"},
 "encoding": {"x": {"datum": 64.9, "type": "quantitative"}, "y": {"datum": 0.042316, "type": "quantitative"}}},
{"data": {"values": [{}]}, "mark": {"type": "text", "text": "C", "align": "left", "baseline": "middle", "fontSize": 10.5, "color": "#131722"},
 "encoding": {"x": {"datum": 75.22, "type": "quantitative"}, "y": {"datum": 0.042316, "type": "quantitative"}}},
{"data": {"values": [{}]}, "mark": {"type": "text", "text": "0.032465", "align": "left", "baseline": "middle", "fontSize": 10, "color": "#f7525f"},
 "encoding": {"x": {"datum": 76.85, "type": "quantitative"}, "y": {"datum": 0.042316, "type": "quantitative"}}},
{"data": {"values": [{}]}, "mark": {"type": "text", "text": "−0.000661 (−2.00%)", "align": "left", "baseline": "middle", "fontSize": 10.8, "color": "#f7525f"},
 "encoding": {"x": {"datum": 87.47, "type": "quantitative"}, "y": {"datum": 0.042316, "type": "quantitative"}}},
{"data": {"values": [{}]}, "mark": {"type": "text", "text": "BB (20, close, 2, 0)", "align": "left", "baseline": "middle", "fontSize": 11.5, "color": "#131722"},
 "encoding": {"x": {"datum": 3.49, "type": "quantitative"}, "y": {"datum": 0.041754, "type": "quantitative"}}},
{"data": {"values": [{}]}, "mark": {"type": "text", "text": "0.032459", "align": "left", "baseline": "middle", "fontSize": 10.5, "color": "#ff6d00"},
 "encoding": {"x": {"datum": 24.73, "type": "quantitative"}, "y": {"datum": 0.041754, "type": "quantitative"}}},
{"data": {"values": [{}]}, "mark": {"type": "text", "text": "0.033005", "align": "left", "baseline": "middle", "fontSize": 10.5, "color": "#2962ff"},
 "encoding": {"x": {"datum": 35.47, "type": "quantitative"}, "y": {"datum": 0.041754, "type": "quantitative"}}},
{"data": {"values": [{}]}, "mark": {"type": "text", "text": "0.031913", "align": "left", "baseline": "middle", "fontSize": 10.5, "color": "#2962ff"},
 "encoding": {"x": {"datum": 46.22, "type": "quantitative"}, "y": {"datum": 0.041754, "type": "quantitative"}}},
{"data": {"values": [{}]}, "mark": {"type": "text", "text": "USDT", "align": "left", "baseline": "middle", "fontSize": 11, "color": "#131722"},
 "encoding": {"x": {"datum": 222.73, "type": "quantitative"}, "y": {"datum": 0.042351, "type": "quantitative"}}},
{"data": {"values": [{}]}, "mark": {"type": "rect", "color": "#2962ff", "cornerRadius": 2},
 "encoding": {"x": {"datum": 220.6, "type": "quantitative"}, "x2": {"datum": 233.1}, "y": {"datum": 0.033333, "type": "quantitative"}, "y2": {"datum": 0.032772}}},
{"data": {"values": [{}]}, "mark": {"type": "rect", "color": "#f7525f", "cornerRadius": 2},
 "encoding": {"x": {"datum": 220.6, "type": "quantitative"}, "x2": {"datum": 233.1}, "y": {"datum": 0.032772, "type": "quantitative"}, "y2": {"datum": 0.031649}}},
{"data": {"values": [{}]}, "mark": {"type": "rect", "color": "#ff6d00", "cornerRadius": 2},
 "encoding": {"x": {"datum": 220.6, "type": "quantitative"}, "x2": {"datum": 233.1}, "y": {"datum": 0.031649, "type": "quantitative"}, "y2": {"datum": 0.031088}}},
{"data": {"values": [{}]}, "mark": {"type": "rect", "color": "#2962ff", "cornerRadius": 2},
 "encoding": {"x": {"datum": 220.6, "type": "quantitative"}, "x2": {"datum": 233.1}, "y": {"datum": 0.031053, "type": "quantitative"}, "y2": {"datum": 0.030491}}},
{"data": {"values": [{}]}, "mark": {"type": "text", "text": "0.033005", "align": "left", "baseline": "middle", "fontSize": 10.5, "fontWeight": "bold", "color": "white"},
 "encoding": {"x": {"datum": 222.34, "type": "quantitative"}, "y": {"datum": 0.033053, "type": "quantitative"}}},
{"data": {"values": [{}]}, "mark": {"type": "text", "text": "0.032465", "align": "left", "baseline": "middle", "fontSize": 10.5, "fontWeight": "bold", "color": "white"},
 "encoding": {"x": {"datum": 222.34, "type": "quantitative"}, "y": {"datum": 0.032544, "type": "quantitative"}}},
{"data": {"values": [{}]}, "mark": {"type": "text", "text": "48:09", "align": "left", "baseline": "middle", "fontSize": 10, "fontWeight": "bold", "color": "#fde0e2"},
 "encoding": {"x": {"datum": 222.34, "type": "quantitative"}, "y": {"datum": 0.031912, "type": "quantitative"}}},
{"data": {"values": [{}]}, "mark": {"type": "text", "text": "0.032459", "align": "left", "baseline": "middle", "fontSize": 10.5, "fontWeight": "bold", "color": "white"},
 "encoding": {"x": {"datum": 222.34, "type": "quantitative"}, "y": {"datum": 0.031368, "type": "quantitative"}}},
{"data": {"values": [{}]}, "mark": {"type": "text", "text": "0.031913", "align": "left", "baseline": "middle", "fontSize": 10.5, "fontWeight": "bold", "color": "white"},
 "encoding": {"x": {"datum": 222.34, "type": "quantitative"}, "y": {"datum": 0.030772, "type": "quantitative"}}}
]
},
{
"width": 1136,
"height": 147,
"layer": [
{"data": {"name": "hist"},
 "transform": [
  {"window": [{"op": "lag", "field": "v", "as": "pv"}], "sort": [{"field": "t", "order": "ascending"}]},
  {"calculate": "datum.pv == null ? 'a' : (datum.v >= 0 ? (datum.v >= datum.pv ? 'a' : 'b') : (datum.v < datum.pv ? 'c' : 'd'))", "as": "k"}
 ],
 "mark": {"type": "bar", "size": 4, "clip": true},
 "encoding": {
  "x": {"field": "t", "type": "quantitative", "title": null, "scale": {"domain": [1.853, 220.6], "nice": false, "zero": false, "padding": 0}, "axis": {"values": [24,48,72,96,120,144,168,192,216], "labelExpr": "format(datum.value / 24 + 2, 'd')", "grid": true, "gridColor": "#f0f3fa", "domain": false, "ticks": false, "labelPadding": 7, "title": null}},
  "y": {"field": "v", "type": "quantitative", "title": null, "stack": null, "scale": {"domain": [-0.0005875, 0.00125], "nice": false, "zero": false, "padding": 0}, "axis": {"orient": "right", "values": [-0.0005, 0.0005, 0.001], "format": ".6f", "labelExpr": "datum.value < 0 ? '' : datum.label", "grid": true, "gridColor": "#f0f3fa", "domain": false, "ticks": false, "labelPadding": 9, "title": null}},
  "y2": {"datum": 0},
  "color": {"field": "k", "type": "nominal", "scale": {"domain": ["a", "b", "c", "d"], "range": ["#26a69a", "#b2dfdb", "#ff5252", "#ffcdd2"]}, "legend": null}
 }},
{"data": {"values": [{}]}, "mark": {"type": "rule", "color": "#9598a1", "strokeWidth": 1, "strokeDash": [4, 3]},
 "encoding": {"y": {"datum": 0, "type": "quantitative"}}},
{"data": {"name": "macd"}, "mark": {"type": "line", "color": "#2962ff", "strokeWidth": 1, "clip": true},
 "encoding": {"x": {"field": "t", "type": "quantitative", "title": null}, "y": {"field": "m", "type": "quantitative", "title": null}}},
{"data": {"name": "sig"}, "mark": {"type": "line", "color": "#ff6d00", "strokeWidth": 1, "clip": true},
 "encoding": {"x": {"field": "t", "type": "quantitative", "title": null}, "y": {"field": "s", "type": "quantitative", "title": null}}},
{"data": {"values": [{}]}, "mark": {"type": "rule", "color": "#e0e3eb", "strokeWidth": 1},
 "encoding": {"x": {"datum": 1.853, "type": "quantitative"}, "x2": {"datum": 235.24}, "y": {"datum": -0.0005875, "type": "quantitative"}}},
{"data": {"values": [{}]}, "mark": {"type": "rule", "color": "#e0e3eb", "strokeWidth": 1},
 "encoding": {"x": {"datum": 1.853, "type": "quantitative"}, "x2": {"datum": 235.24}, "y": {"datum": -0.000925, "type": "quantitative"}}},
{"data": {"values": [{}]}, "mark": {"type": "rule", "color": "#e0e3eb", "strokeWidth": 1},
 "encoding": {"x": {"datum": 1.853, "type": "quantitative"}, "y": {"datum": 0.00125, "type": "quantitative"}, "y2": {"datum": -0.000925}}},
{"data": {"values": [{}]}, "mark": {"type": "rule", "color": "#e0e3eb", "strokeWidth": 1},
 "encoding": {"x": {"datum": 235.24, "type": "quantitative"}, "y": {"datum": 0.00125, "type": "quantitative"}, "y2": {"datum": -0.000925}}},
{"data": {"values": [{}]}, "mark": {"type": "text", "text": "−0.000500", "align": "left", "baseline": "middle", "fontSize": 11, "color": "#131722"},
 "encoding": {"x": {"datum": 222.34, "type": "quantitative"}, "y": {"datum": -0.000555, "type": "quantitative"}}},
{"data": {"values": [{}]}, "mark": {"type": "text", "text": "MACD (12, 26, close, 9, EMA, EMA)", "align": "left", "baseline": "middle", "fontSize": 11.5, "color": "#131722"},
 "encoding": {"x": {"datum": 3.26, "type": "quantitative"}, "y": {"datum": 0.001075, "type": "quantitative"}}},
{"data": {"values": [{}]}, "mark": {"type": "text", "text": "0.000055", "align": "left", "baseline": "middle", "fontSize": 10.5, "color": "#a5d6d2"},
 "encoding": {"x": {"datum": 40.69, "type": "quantitative"}, "y": {"datum": 0.001075, "type": "quantitative"}}},
{"data": {"values": [{}]}, "mark": {"type": "text", "text": "−0.000006", "align": "left", "baseline": "middle", "fontSize": 10.5, "color": "#2962ff"},
 "encoding": {"x": {"datum": 51.48, "type": "quantitative"}, "y": {"datum": 0.001075, "type": "quantitative"}}},
{"data": {"values": [{}]}, "mark": {"type": "text", "text": "−0.000061", "align": "left", "baseline": "middle", "fontSize": 10.5, "color": "#ff6d00"},
 "encoding": {"x": {"datum": 63.28, "type": "quantitative"}, "y": {"datum": 0.001075, "type": "quantitative"}}},
{"data": {"values": [{}]}, "mark": {"type": "rect", "color": "#b2dfdb", "cornerRadius": 2},
 "encoding": {"x": {"datum": 220.6, "type": "quantitative"}, "x2": {"datum": 233.1}, "y": {"datum": 0.000134, "type": "quantitative"}, "y2": {"datum": -0.000066}}},
{"data": {"values": [{}]}, "mark": {"type": "rect", "color": "#2962ff", "cornerRadius": 2},
 "encoding": {"x": {"datum": 220.6, "type": "quantitative"}, "x2": {"datum": 233.1}, "y": {"datum": -0.000079, "type": "quantitative"}, "y2": {"datum": -0.000284}}},
{"data": {"values": [{}]}, "mark": {"type": "rect", "color": "#ff6d00", "cornerRadius": 2},
 "encoding": {"x": {"datum": 220.6, "type": "quantitative"}, "x2": {"datum": 233.1}, "y": {"datum": -0.000288, "type": "quantitative"}, "y2": {"datum": -0.000496}}},
{"data": {"values": [{}]}, "mark": {"type": "text", "text": "0.000055", "align": "left", "baseline": "middle", "fontSize": 10.5, "color": "#131722"},
 "encoding": {"x": {"datum": 222.34, "type": "quantitative"}, "y": {"datum": 0.000025, "type": "quantitative"}}},
{"data": {"values": [{}]}, "mark": {"type": "text", "text": "−0.000006", "align": "left", "baseline": "middle", "fontSize": 10.5, "color": "white"},
 "encoding": {"x": {"datum": 222.34, "type": "quantitative"}, "y": {"datum": -0.000181, "type": "quantitative"}}},
{"data": {"values": [{}]}, "mark": {"type": "text", "text": "−0.000061", "align": "left", "baseline": "middle", "fontSize": 10.5, "color": "white"},
 "encoding": {"x": {"datum": 222.34, "type": "quantitative"}, "y": {"datum": -0.000385, "type": "quantitative"}}},
{"data": {"values": [{}]}, "mark": {"type": "text", "text": "TV", "align": "left", "baseline": "middle", "fontSize": 14, "fontWeight": 900, "color": "#131722"},
 "encoding": {"x": {"datum": 1.853, "type": "quantitative"}, "y": {"datum": -0.00115, "type": "quantitative"}}},
{"data": {"values": [{}]}, "mark": {"type": "text", "text": "TradingView", "align": "left", "baseline": "middle", "fontSize": 12.5, "color": "#131722"},
 "encoding": {"x": {"datum": 6.28, "type": "quantitative"}, "y": {"datum": -0.00115, "type": "quantitative"}}}
]
}
]
}
